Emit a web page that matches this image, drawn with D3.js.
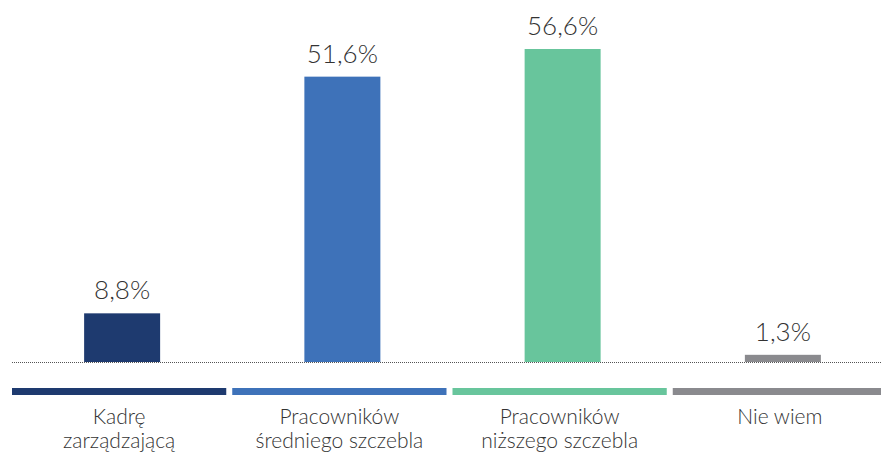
<!DOCTYPE html>
<html lang="pl">
<head>
  <meta charset="utf-8">
  <title>Chart</title>
  <script src="https://d3js.org/d3.v7.min.js"></script>
  <style>
    body { margin: 0; background: #fff; }
    text { font-family: Lato, "Open Sans", sans-serif; fill: #333; }
  </style>
</head>
<body>
<script>
  // data
  const categories = ["Kadrę zarządzającą", "Pracowników średniego szczebla", "Pracowników niższego szczebla", "Nie wiem"];
  const labelLines = [["Kadrę", "zarządzającą"], ["Pracowników", "średniego szczebla"], ["Pracowników", "niższego szczebla"], ["Nie wiem"]];
  const values = [8.8, 51.6, 56.6, 1.3];
  const valueLabels = ["8,8%", "51,6%", "56,6%", "1,3%"];
  const colors = ["#1e3a6f", "#3e72b9", "#68c59c", "#8a8a8e"];

  const width = 881, height = 452;
  const baseY = 362;

  const svg = d3.select("body").append("svg")
    .attr("width", width)
    .attr("height", height);

  const x = d3.scaleBand()
    .domain(categories)
    .range([12, 893])
    .paddingInner(0);

  const y = d3.scaleLinear()
    .domain([0, 56.6])
    .range([baseY, 49]);

  const barW = 76;

  // bars
  svg.selectAll(".bar")
    .data(categories)
    .enter().append("rect")
    .attr("class", "bar")
    .attr("x", d => x(d) + x.bandwidth() / 2 - barW / 2)
    .attr("y", (d, i) => y(values[i]))
    .attr("width", barW)
    .attr("height", (d, i) => baseY - y(values[i]))
    .attr("fill", (d, i) => colors[i]);

  // dotted baseline
  svg.append("line")
    .attr("x1", 12).attr("x2", width)
    .attr("y1", baseY + 0.5).attr("y2", baseY + 0.5)
    .attr("stroke", "#555")
    .attr("stroke-width", 1)
    .attr("stroke-dasharray", "1,1");

  // value labels
  svg.selectAll(".val")
    .data(categories)
    .enter().append("text")
    .attr("class", "val")
    .attr("x", d => x(d) + x.bandwidth() / 2)
    .attr("y", (d, i) => y(values[i]) - 14)
    .attr("text-anchor", "middle")
    .attr("font-size", 26)
    .attr("font-weight", 300)
    .text((d, i) => valueLabels[i]);

  // legend strips
  const gap = 6;
  svg.selectAll(".strip")
    .data(categories)
    .enter().append("rect")
    .attr("class", "strip")
    .attr("x", d => x(d))
    .attr("y", 388)
    .attr("width", x.bandwidth() - gap)
    .attr("height", 7)
    .attr("fill", (d, i) => colors[i]);

  // category labels, one text per line
  categories.forEach((c, i) => {
    labelLines[i].forEach((line, j) => {
      svg.append("text")
        .attr("class", "cat")
        .attr("x", x(c) + (x.bandwidth() - gap) / 2)
        .attr("y", 424 + j * 24)
        .attr("text-anchor", "middle")
        .attr("font-size", 21)
        .attr("font-weight", 300)
        .text(line);
    });
  });
</script>
</body>
</html>
